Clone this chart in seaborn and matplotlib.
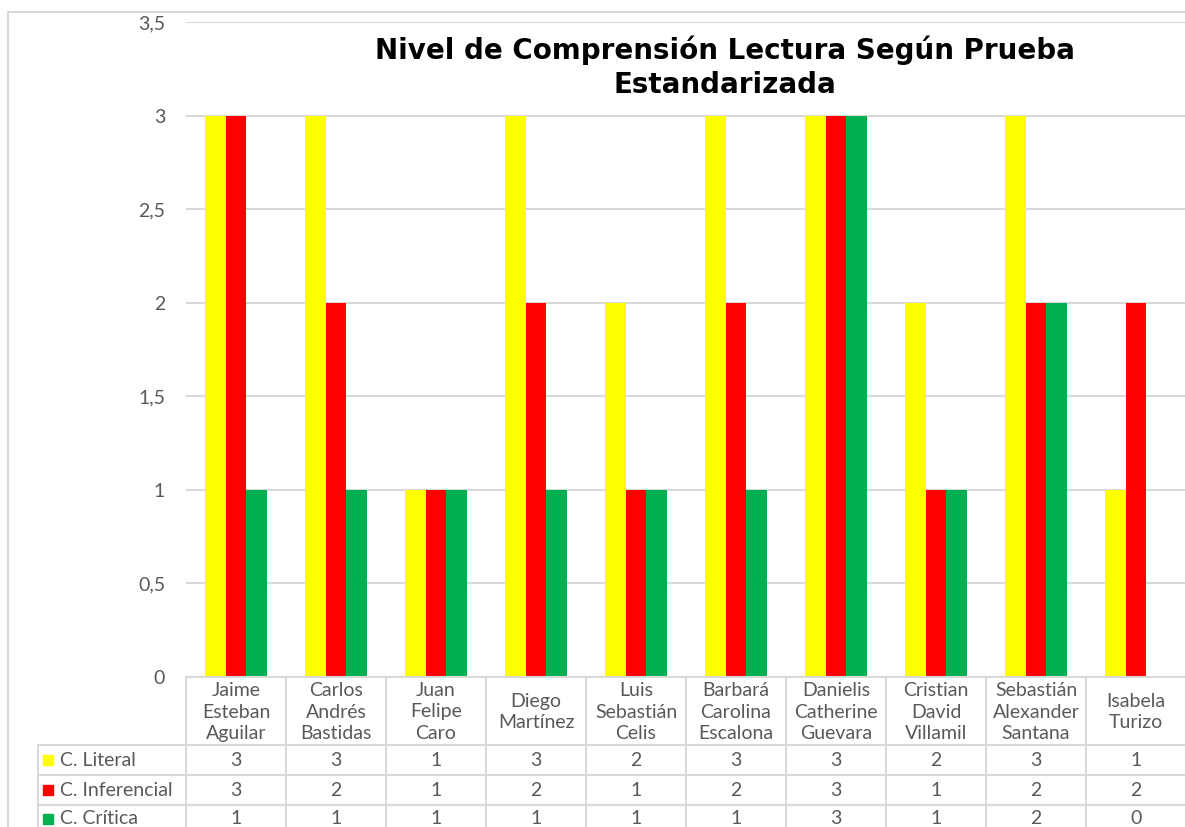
import pandas as pd
import matplotlib
matplotlib.use("Agg")
import matplotlib.pyplot as plt
import seaborn as sns
from matplotlib.transforms import blended_transform_factory
from matplotlib.patches import Rectangle

# Datos
estudiantes = ["Jaime\nEsteban\nAguilar", "Carlos\nAndrés\nBastidas", "Juan\nFelipe\nCaro",
               "Diego\nMartínez", "Luis\nSebastián\nCelis", "Barbará\nCarolina\nEscalona",
               "Danielis\nCatherine\nGuevara", "Cristian\nDavid\nVillamil",
               "Sebastián\nAlexander\nSantana", "Isabela\nTurizo"]
criterios = ["C. Literal", "C. Inferencial", "C. Crítica"]
literal = [3, 3, 1, 3, 2, 3, 3, 2, 3, 1]
inferencial = [3, 2, 1, 2, 1, 2, 3, 1, 2, 2]
critica = [1, 1, 1, 1, 1, 1, 3, 1, 2, 0]
colores = ["#FFFF00", "#FF0000", "#00B050"]
yticks = [0, 0.5, 1, 1.5, 2, 2.5, 3, 3.5]

valores = {"C. Literal": literal, "C. Inferencial": inferencial, "C. Crítica": critica}
df = pd.DataFrame([(e, c, valores[c][i]) for c in criterios for i, e in enumerate(estudiantes)],
                  columns=["Estudiante", "Criterio", "Valor"])

sns.set_style("white")
plt.rcParams['font.family'] = ['Lato', 'DejaVu Sans']

W, H = 1185, 827
fig = plt.figure(figsize=(W / 100, H / 100), dpi=100)
ax = fig.add_axes([186 / W, 1 - 677 / H, 1000 / W, (677 - 22) / H])

sns.barplot(data=df, x="Estudiante", y="Valor", hue="Criterio", order=estudiantes,
            hue_order=criterios, palette=colores, width=0.62, saturation=1,
            linewidth=0, legend=False, ax=ax)

gris = "#D9D9D9"
texto = "#595959"
fs = 14
ax.set_xlim(-0.5, 9.5)
ax.set_ylim(0, 3.5)
ax.set_yticks(yticks)
ax.set_yticklabels([f"{v:g}".replace(".", ",") for v in yticks], color=texto, fontsize=fs)
ax.tick_params(axis="y", length=0, pad=15)
ax.set_xticks([])
ax.set_xlabel("")
ax.set_ylabel("")
ax.yaxis.grid(True, color=gris, lw=1.5)
ax.set_axisbelow(True)
for s in ax.spines.values():
    s.set_visible(False)

# Título
fig.text(725 / W, 1 - 50 / H, "Nivel de Comprensión Lectura Según Prueba",
         ha="center", va="center", fontsize=20, fontweight="bold", family="DejaVu Sans", color="black")
fig.text(725 / W, 1 - 85 / H, "Estandarizada",
         ha="center", va="center", fontsize=20, fontweight="bold", family="DejaVu Sans", color="black")

# Tabla de datos
fy = lambda px: 1 - px / H
trans = blended_transform_factory(ax.transData, fig.transFigure)
n = len(estudiantes)
for k in range(n + 1):
    ax.plot([k - 0.5, k - 0.5], [fy(677), 0], transform=trans, clip_on=False, color=gris, lw=1.5)
ax.plot([-0.5, n - 0.5], [fy(677), fy(677)], transform=trans, clip_on=False, color=gris, lw=1.5)
for py in [745, 775, 805]:
    fig.add_artist(plt.Line2D([38 / W, 1], [fy(py), fy(py)], color=gris, lw=1.5))
fig.add_artist(plt.Line2D([38 / W, 38 / W], [fy(745), 0], color=gris, lw=1.5))

for i, nombre in enumerate(estudiantes):
    ax.text(i, fy(712), nombre, transform=trans, ha="center", va="center",
            color=texto, fontsize=fs, linespacing=1.32)

filas_y = [760, 790, 819]
for c, color, py in zip(criterios, colores, filas_y):
    fig.add_artist(Rectangle((43 / W, fy(py + 5)), 10 / W, 10 / H, color=color,
                             transform=fig.transFigure))
    fig.text(60 / W, fy(py), c, ha="left", va="center", color=texto, fontsize=fs)
    for i, v in enumerate(valores[c]):
        ax.text(i, fy(py), str(v), transform=trans, ha="center", va="center",
                color=texto, fontsize=fs)

# Borde del área del gráfico
fig.add_artist(plt.Line2D([8 / W, 8 / W], [0, fy(12)], color=gris, lw=1.5))
fig.add_artist(plt.Line2D([8 / W, 1], [fy(12), fy(12)], color=gris, lw=1.5))

fig.savefig("out.png", dpi=100)
